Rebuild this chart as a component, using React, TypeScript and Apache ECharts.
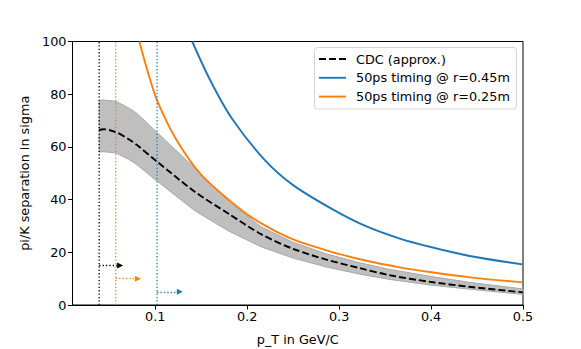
import React, { useEffect, useRef } from "react";
import * as echarts from "echarts";

// ---- data ----
const cdcX = [0.039, 0.0435, 0.0573, 0.0725, 0.0798, 0.102, 0.143, 0.179, 0.2156, 0.25, 0.2863, 0.3225, 0.355, 0.3986, 0.442, 0.5];
const cdcY = [66.4, 66.7, 65.6, 62.6, 60.8, 54.4, 43.0, 34.8, 26.8, 21.3, 17.2, 14.0, 11.3, 8.8, 6.9, 4.8];
const bandUpper = [77.6, 77.8, 77.3, 74.5, 72.8, 65.5, 52.0, 39.5, 29.6, 23.8, 19.4, 16.0, 13.5, 10.9, 8.6, 6.1];
const bandLower = [58.0, 58.2, 57.7, 55.0, 53.3, 47.0, 35.8, 28.2, 22.0, 17.8, 14.4, 11.7, 9.7, 7.6, 6.0, 4.0];

const blueX = [0.1402, 0.1595, 0.183, 0.2192, 0.25, 0.2935, 0.3298, 0.366, 0.3986, 0.442, 0.4993];
const blueY = [100, 85.5, 71.0, 55.0, 45.5, 36.2, 29.8, 25.2, 22.1, 18.6, 15.4];

const orangeX = [0.0826, 0.0924, 0.1022, 0.1232, 0.1504, 0.1939, 0.2192, 0.25, 0.2935, 0.3298, 0.366, 0.3986, 0.442, 0.4993];
const orangeY = [100, 87.9, 77.5, 62.6, 49.3, 36.0, 30.2, 24.9, 20.0, 16.8, 14.3, 12.5, 10.5, 8.6];

const thresholdX = [0.039, 0.057, 0.102];
const arrowY = [15, 10, 5];
const arrowEndX = [0.0618, 0.0812, 0.1267];

const xTicks = [0.1, 0.2, 0.3, 0.4, 0.5];
const yTicks = [0, 20, 40, 60, 80, 100];

const seriesNames = ["CDC (approx.)", "50ps timing @ r=0.45m", "50ps timing @ r=0.25m"];

const FONT = "DejaVu Sans";
const FS = 12.8;
const C_BLUE = "#1f77b4";
const C_ORANGE = "#ff7f0e";
const thresholdColors = ["#000000", C_ORANGE, C_BLUE];
const legendColors = ["#000000", C_BLUE, C_ORANGE];
const legendDash: any[] = [[7, 3], null, null];

export default function App() {
  const ref = useRef<HTMLDivElement>(null);

  useEffect(() => {
    if (!ref.current) return;
    const chart = echarts.init(ref.current, null, { renderer: "svg" });

    const bandData = cdcX.map((x, i) => [x, bandLower[i], bandUpper[i]]);

    const thresholdSeries = thresholdX.map((x, i) => ({
      type: "line",
      name: "thr" + i,
      data: [
        [x, yTicks[0]],
        [x, yTicks[yTicks.length - 1]],
      ],
      symbol: "none",
      z: 5,
      lineStyle: { color: thresholdColors[i], width: 1.3, type: [1.3, 2.1] },
      markLine: {
        silent: true,
        animation: false,
        symbol: ["none", "triangle"],
        symbolSize: 6,
        label: { show: false },
        lineStyle: { color: thresholdColors[i], width: 1.3, type: [1.3, 2.1] },
        data: [[{ coord: [x, arrowY[i]] }, { coord: [arrowEndX[i], arrowY[i]] }]],
      },
    }));

    // legend drawn as graphic (matplotlib style box)
    const lgLeft = 314.5;
    const lgTop = 47.5;
    const rowH = 18.8;
    const legendChildren: any[] = [
      {
        type: "rect",
        shape: { x: lgLeft, y: lgTop, width: 202, height: 61.5, r: 3 },
        style: { fill: "#ffffff", stroke: "#d4d4d4", lineWidth: 1 },
      },
    ];
    seriesNames.forEach((name, i) => {
      const cy = lgTop + 11.5 + i * rowH;
      legendChildren.push({
        type: "line",
        shape: { x1: lgLeft + 4.5, y1: cy, x2: lgLeft + 31.5, y2: cy },
        style: { stroke: legendColors[i], lineWidth: 1.9, lineDash: legendDash[i] || undefined },
      });
      legendChildren.push({
        type: "text",
        x: lgLeft + 41.5,
        y: cy,
        style: {
          text: name,
          fontFamily: FONT,
          fontSize: FS,
          fill: "#000",
          verticalAlign: "middle",
          align: "left",
        },
      });
    });

    const option: any = {
      animation: false,
      grid: {
        left: 72.5,
        top: 41.5,
        right: 58,
        bottom: 44,
        show: true,
        borderColor: "#000",
        borderWidth: 1,
        backgroundColor: "transparent",
        outerBoundsMode: "none",
        containLabel: false,
      },
      graphic: [{ type: "group", z: 100, children: legendChildren }],
      xAxis: {
        type: "value",
        min: 0.01,
        max: 0.5,
        name: "p_T in GeV/C",
        nameLocation: "middle",
        nameGap: 28,
        nameTextStyle: { fontFamily: FONT, fontSize: FS, color: "#000" },
        axisLine: { show: true, onZero: false, lineStyle: { color: "#000", width: 1 } },
        axisTick: { show: true, length: 4.5, lineStyle: { color: "#000", width: 1 }, customValues: xTicks },
        axisLabel: {
          fontFamily: FONT,
          fontSize: FS,
          color: "#000",
          margin: 5,
          customValues: xTicks,
          formatter: (v: number) => v.toFixed(1),
        },
        splitLine: { show: false },
      },
      yAxis: {
        type: "value",
        min: 0,
        max: 100,
        interval: 20,
        name: "pi/K separation in sigma",
        nameLocation: "middle",
        nameRotate: 90,
        nameGap: 32,
        nameTextStyle: { fontFamily: FONT, fontSize: FS, color: "#000" },
        axisLine: { show: true, lineStyle: { color: "#000", width: 1 } },
        axisTick: { show: true, length: 4.5, lineStyle: { color: "#000", width: 1 } },
        axisLabel: { fontFamily: FONT, fontSize: FS, color: "#000", margin: 6 },
        splitLine: { show: false },
      },
      series: [
        {
          type: "custom",
          name: "band",
          data: bandData,
          encode: { x: 0, y: [1, 2] },
          z: 1,
          silent: true,
          renderItem: (params: any, api: any) => {
            if (params.dataIndex !== 0) return null;
            const pts: number[][] = [];
            for (let i = 0; i < cdcX.length; i++) pts.push(api.coord([cdcX[i], bandUpper[i]]));
            for (let i = cdcX.length - 1; i >= 0; i--) pts.push(api.coord([cdcX[i], bandLower[i]]));
            return {
              type: "polygon",
              shape: { points: pts },
              style: { fill: "#bfbfbf", stroke: "#a9a9a9", lineWidth: 1 },
            };
          },
        },
        {
          type: "line",
          name: seriesNames[0],
          data: cdcX.map((x, i) => [x, cdcY[i]]),
          symbol: "none",
          smooth: 0.3,
          z: 3,
          lineStyle: { color: "#000", width: 1.9, type: [7, 3] },
        },
        {
          type: "line",
          name: seriesNames[1],
          data: blueX.map((x, i) => [x, blueY[i]]),
          symbol: "none",
          smooth: 0.3,
          clip: true,
          z: 3,
          lineStyle: { color: C_BLUE, width: 1.9 },
        },
        {
          type: "line",
          name: seriesNames[2],
          data: orangeX.map((x, i) => [x, orangeY[i]]),
          symbol: "none",
          smooth: 0.3,
          clip: true,
          z: 3,
          lineStyle: { color: C_ORANGE, width: 1.9 },
        },
        ...thresholdSeries,
      ],
    };

    chart.setOption(option);
    return () => {
      chart.dispose();
    };
  }, []);

  return (
    <div
      ref={ref}
      style={{ position: "fixed", left: 0, top: 0, width: 581, height: 349, background: "#fff" }}
    />
  );
}
